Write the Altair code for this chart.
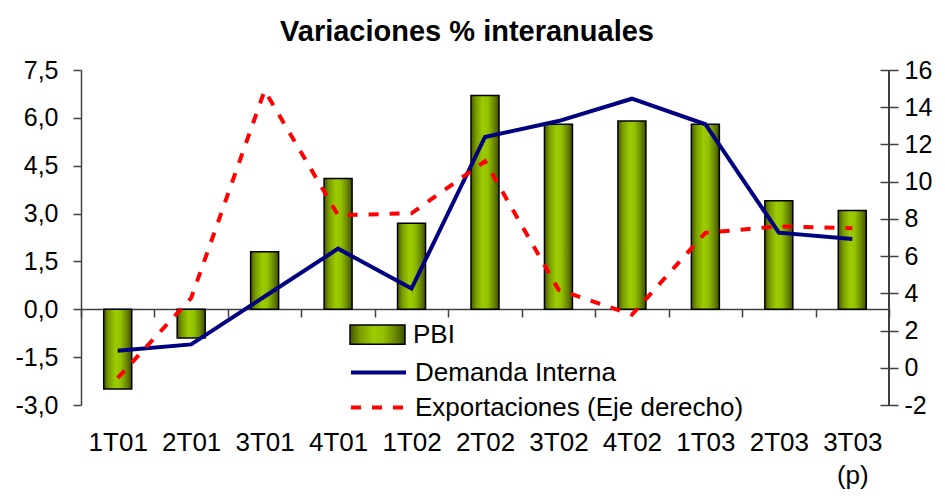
import altair as alt
import pandas as pd

trimestres = ["1T01", "2T01", "3T01", "4T01", "1T02", "2T02", "3T02", "4T02", "1T03", "2T03", "3T03"]
pbi = [-2.5, -0.9, 1.8, 4.1, 2.7, 6.7, 5.8, 5.9, 5.8, 3.4, 3.1]
demanda = [-1.3, -1.1, 0.4, 1.9, 0.65, 5.4, 5.9, 6.6, 5.8, 2.4, 2.2]
exportaciones = [-0.55, 3.75, 14.9, 8.2, 8.3, 11.1, 4.2, 2.85, 7.25, 7.6, 7.5]
left_ticks = [-3.0, -1.5, 0.0, 1.5, 3.0, 4.5, 6.0, 7.5]
right_ticks = [-2, 0, 2, 4, 6, 8, 10, 12, 14, 16]
series = ["PBI", "Demanda Interna", "Exportaciones (Eje derecho)"]

df = pd.DataFrame({
    "trimestre": trimestres,
    "pbi": pbi,
    "demanda": demanda,
    "exportaciones": exportaciones,
    "s_pbi": series[0],
    "s_dem": series[1],
    "s_exp": series[2],
})

FONT = "Liberation Sans"
AX = "#404040"
W, H = 808, 335

base = alt.Chart(df)

x_enc = alt.X(
    "trimestre:N", sort=trimestres, title=None,
    scale=alt.Scale(paddingInner=0, paddingOuter=0),
    axis=alt.Axis(
        offset=-96, tickBand="extent", tickSize=8, tickWidth=1.5, tickColor=AX,
        domainColor=AX, domainWidth=1.5, labelAngle=0, labelPadding=112,
        labelFont=FONT, labelFontSize=26, labelColor="black", labelBaseline="top",
        labelLineHeight=33,
        labelExpr="datum.value == '3T03' ? ['3T03', '(p)'] : datum.value",
    ),
)

left_axis = alt.Axis(
    values=left_ticks, grid=False, orient="left", tickSize=8, tickWidth=1.5,
    tickColor=AX, domainColor=AX, domainWidth=1.5, labelPadding=15,
    labelFont=FONT, labelFontSize=25, labelColor="black",
    labelExpr="replace(replace(format(datum.value, '.1f'), '.', ','), '\u2212', '-')",
)
left_scale = alt.Scale(domain=[-3, 7.5], nice=False)

grad = alt.LinearGradient(
    gradient="linear", x1=0, x2=1, y1=0, y2=0,
    stops=[
        alt.GradientStop(color="#465800", offset=0),
        alt.GradientStop(color="#7a9c00", offset=0.18),
        alt.GradientStop(color="#9ccc00", offset=0.42),
        alt.GradientStop(color="#93c200", offset=0.6),
        alt.GradientStop(color="#6a8800", offset=0.82),
        alt.GradientStop(color="#3e4d00", offset=1),
    ],
)

legend_common = dict(
    orient="none", title=None, padding=0, labelFont=FONT, labelFontSize=26,
    labelColor="black", symbolSize=3025, labelOffset=7, labelLimit=600,
)

bars = base.mark_bar(fill=grad, size=28, strokeWidth=1.5).encode(
    x=x_enc,
    y=alt.Y("pbi:Q", title=None, scale=left_scale, axis=left_axis),
    stroke=alt.Stroke(
        "s_pbi:N",
        scale=alt.Scale(domain=[series[0]], range=["black"]),
        legend=alt.Legend(legendX=268, legendY=236, symbolType="M-1,-0.35H1V0.35H-1Z",
                          symbolStrokeWidth=1.5, **legend_common),
    ),
)

dem = base.mark_line(strokeWidth=4).encode(
    x=x_enc,
    y=alt.Y("demanda:Q", title=None, scale=left_scale, axis=left_axis),
    color=alt.Color(
        "s_dem:N",
        scale=alt.Scale(domain=[series[1]], range=["#000080"]),
        legend=alt.Legend(legendX=268, legendY=273, symbolType="stroke",
                          symbolStrokeWidth=4, **legend_common),
    ),
)

exp_line = base.mark_line(strokeWidth=4, color="#ff0000").encode(
    x=x_enc,
    y=alt.Y(
        "exportaciones:Q", title=None,
        scale=alt.Scale(domain=[-2, 16], nice=False),
        axis=alt.Axis(
            values=right_ticks, grid=False, orient="right", offset=-9, tickSize=18,
            tickWidth=1.5, tickColor=AX, domain=False, labelPadding=6,
            labelFont=FONT, labelFontSize=25, labelColor="black",
            labelExpr="replace(format(datum.value, 'd'), '\u2212', '-')",
        ),
    ),
    strokeDash=alt.StrokeDash(
        "s_exp:N",
        scale=alt.Scale(domain=[series[2]], range=[[10, 11]]),
        legend=alt.Legend(legendX=268, legendY=308, symbolType="stroke",
                          symbolStrokeWidth=4, **legend_common),
    ),
)

right_line = base.mark_rule(color=AX, strokeWidth=1.5).encode(
    x=alt.value(W), y=alt.value(0), y2=alt.value(H)
)

left_group = alt.layer(bars, dem)
right_group = alt.layer(exp_line, right_line)

chart = (
    alt.layer(left_group, right_group)
    .resolve_scale(y="independent", stroke="independent", color="independent", strokeDash="independent")
    .properties(
        width=W, height=H,
        autosize=alt.AutoSizeParams(type="none"),
        padding={"left": 73, "top": 62, "right": 46, "bottom": 89},
        title=alt.Title("Variaciones % interanuales", font=FONT, fontSize=29,
                        fontWeight="bold", color="black", anchor="middle", dx=-18, offset=11),
    )
    .configure_view(strokeWidth=0)
)

chart.save("out.html", embed_options={"renderer": "svg", "actions": False})
